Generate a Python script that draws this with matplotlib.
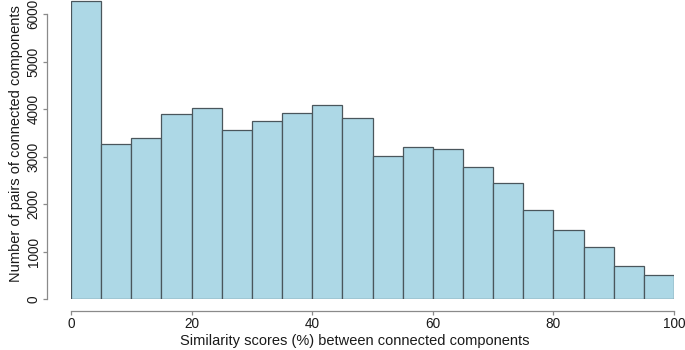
import numpy as np
import matplotlib
matplotlib.use("Agg")
import matplotlib.pyplot as plt

# bin edges (percent) and counts
bin_edges = list(range(0, 105, 5))
counts = [6274, 3263, 3389, 3895, 4021, 3558, 3747, 3916, 4084, 3811,
          3011, 3200, 3158, 2779, 2442, 1874, 1453, 1101, 695, 505]
x_ticks = [0, 20, 40, 60, 80, 100]
y_ticks = [0, 1000, 2000, 3000, 4000, 5000, 6000]

plt.rcParams['font.family'] = ['Liberation Sans', 'DejaVu Sans']

W, H = 685, 350
fig = plt.figure(figsize=(W / 100, H / 100), dpi=100)
ax = fig.add_axes([71 / W, (H - 299.3) / H, 603 / W, 299.3 / H])

left = np.array(bin_edges[:-1])
widths = np.diff(bin_edges)
ax.bar(left, counts, width=widths, align='edge', color='#add8e6',
       edgecolor='#4a565c', linewidth=0.9)

ax.set_xlim(0, 100)
ax.set_ylim(0, 6300)

for s in ['top', 'right']:
    ax.spines[s].set_visible(False)
# R-style detached axes
ax.spines['left'].set_position(('outward', 17.3))
ax.spines['bottom'].set_position(('outward', 8.6))
ax.spines['left'].set_bounds(0, 6000)
ax.spines['bottom'].set_bounds(0, 100)
for s in ['left', 'bottom']:
    ax.spines[s].set_color('#8a8a8a')
    ax.spines[s].set_linewidth(0.9)

ax.set_xticks(x_ticks)
ax.set_yticks(y_ticks)
ax.set_yticklabels([str(v) for v in y_ticks], rotation=90, va='center')
ax.tick_params(axis='both', colors='#8a8a8a', labelcolor='#1a1a1a',
               labelsize=9.8, length=3, width=0.9, pad=1.5)

ax.set_xlabel('Similarity scores (%) between connected components',
              fontsize=10.5, color='#1a1a1a', va='center')
ax.set_ylabel('Number of pairs of connected components',
              fontsize=10.5, color='#1a1a1a', va='center')
ax.xaxis.set_label_coords(355 / W, (H - 341) / H, transform=fig.transFigure)
ax.yaxis.set_label_coords(16 / W, (H - 144) / H, transform=fig.transFigure)

fig.savefig('out.png', dpi=100)
